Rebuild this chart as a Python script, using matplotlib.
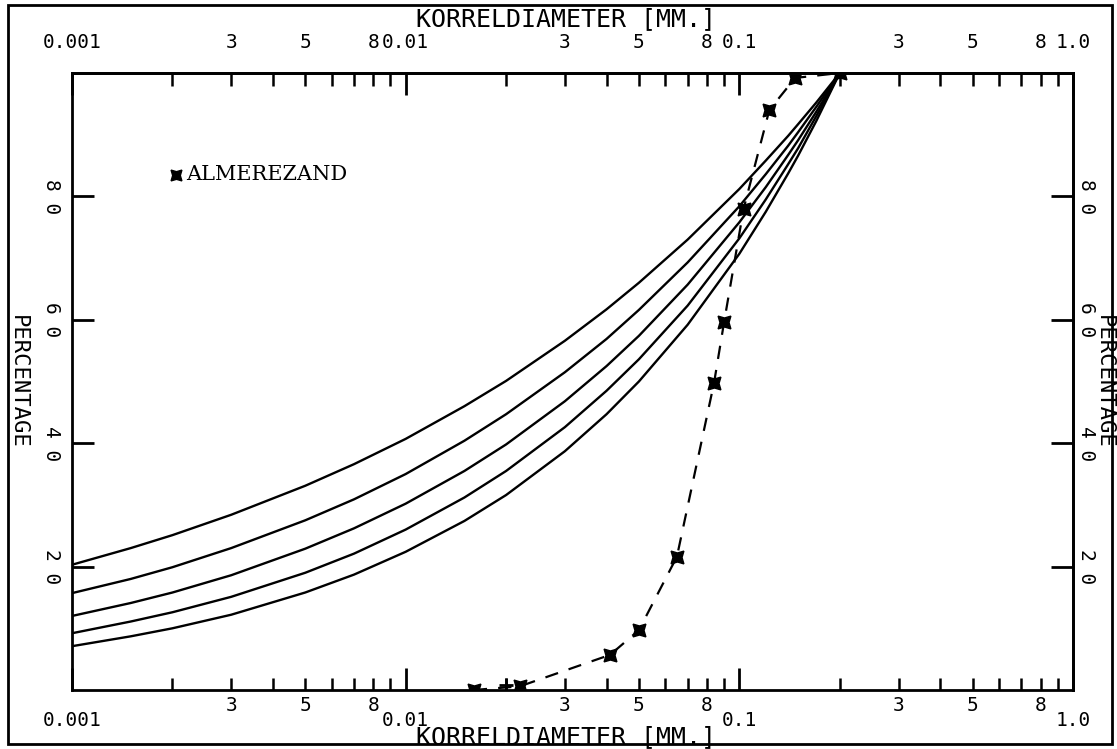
import numpy as np
import matplotlib
matplotlib.use('Agg')
import matplotlib.pyplot as plt
from matplotlib.patches import Rectangle

# grain size (mm) where the five reference curves were read
curve_d = [0.001, 0.0015, 0.002, 0.003, 0.005, 0.007, 0.01, 0.015, 0.02, 0.03,
           0.04, 0.05, 0.07, 0.1, 0.12, 0.14, 0.15, 0.17, 0.2]
curve_1 = [20.3, 23.0, 25.1, 28.4, 33.1, 36.6, 40.7, 46.0, 50.1, 56.6,
           61.7, 66.0, 73.0, 81.2, 85.8, 89.8, 91.7, 95.2, 100]
curve_2 = [15.7, 18.0, 19.9, 23.0, 27.5, 30.9, 35.0, 40.4, 44.7, 51.5,
           56.9, 61.6, 69.3, 78.4, 83.6, 88.2, 90.4, 94.5, 100]
curve_3 = [12.0, 14.1, 15.8, 18.6, 22.9, 26.2, 30.2, 35.5, 39.8, 46.8,
           52.5, 57.4, 65.7, 75.8, 81.5, 86.7, 89.1, 93.7, 100]
curve_4 = [9.2, 11.1, 12.6, 15.1, 19.0, 22.1, 26.0, 31.2, 35.5, 42.6,
           48.5, 53.6, 62.3, 73.2, 79.5, 85.2, 87.8, 93.0, 100]
curve_5 = [7.1, 8.7, 10.0, 12.2, 15.8, 18.7, 22.4, 27.4, 31.6, 38.7,
           44.7, 50.0, 59.2, 70.7, 77.5, 83.7, 86.6, 92.2, 100]

# Almerezand sieve curve
sand_d = [0.016, 0.022, 0.041, 0.050, 0.065, 0.084, 0.090, 0.103, 0.123, 0.147, 0.2]
sand_p = [0.0, 0.6, 5.7, 9.7, 21.6, 49.8, 59.6, 78.0, 94.0, 99.2, 100.0]
extra_d = [0.020]
extra_p = [0.8]

decades = [0.001, 0.01, 0.1, 1.0]
decade_labels = ['0.001', '0.01', '0.1', '1.0']
minor_pos = [m * d for d in [0.001, 0.01, 0.1] for m in range(2, 10)]
minor_labels = [str(m) if m in (3, 5, 8) else '' for d in range(3) for m in range(2, 10)]
y_ticks = [20, 40, 60, 80]
y_labels = ['2 0', '4 0', '6 0', '8 0']

mono = 'DejaVu Sans Mono'
W, H = 1117, 749

fig = plt.figure(figsize=(11.17, 7.49), dpi=100)
ax = fig.add_axes([72 / W, 1 - 690 / H, (1073 - 72) / W, (690 - 73) / H])

for c in [curve_1, curve_2, curve_3, curve_4, curve_5]:
    ax.plot(curve_d, c, color='black', lw=1.7, solid_capstyle='round')

ax.plot(sand_d, sand_p, color='black', lw=1.6, dashes=(6, 5))
ax.plot(sand_d, sand_p, ls='none', marker=(4, 1, 45), ms=13, color='black')
ax.plot(extra_d, extra_p, ls='none', marker='+', ms=10, mew=2, color='black')

# legend
ax.plot([0.00205], [83.5], ls='none', marker=(4, 1, 45), ms=11, color='black')
ax.text(0.0022, 83.5, 'ALMEREZAND', family='DejaVu Serif', fontsize=15,
        va='center', ha='left')

ax.set_xscale('log')
ax.set_xlim(0.001, 1.0)
ax.set_ylim(0, 100)

for s in ax.spines.values():
    s.set_linewidth(2)

ax.set_xticks(decades, labels=decade_labels)
ax.set_xticks(minor_pos, labels=minor_labels, minor=True)
ax.set_yticks(y_ticks, labels=y_labels)
ax.tick_params(axis='x', which='major', direction='in', length=16, width=2, pad=15,
               labelsize=14)
ax.tick_params(axis='x', which='minor', direction='in', length=9, width=1.8, pad=4,
               labelsize=14)
ax.tick_params(axis='y', direction='in', length=16, width=2, pad=8, labelsize=14,
               labelrotation=-90)
for lab in ax.get_xticklabels(which='both') + ax.get_yticklabels():
    lab.set_family(mono)
for lab in ax.get_yticklabels():
    lab.set_va('center')

mid_y = 1 - (73 + 690) / 2 / H
ax.set_xlabel('KORRELDIAMETER [MM.]', family=mono, fontsize=18, va='center')
ax.xaxis.set_label_coords(566 / W, 1 - 737 / H, transform=fig.transFigure)
ax.set_ylabel('PERCENTAGE', family=mono, fontsize=16, rotation=-90, va='center')
ax.yaxis.set_label_coords(18 / W, mid_y, transform=fig.transFigure)

top = ax.secondary_xaxis('top')
top.set_xticks(decades, labels=decade_labels)
top.set_xticks(minor_pos, labels=minor_labels, minor=True)
top.tick_params(which='major', direction='in', length=16, width=2, pad=15, labelsize=14)
top.tick_params(which='minor', direction='in', length=9, width=1.8, pad=15, labelsize=14)
top.spines['top'].set_linewidth(2)
for lab in top.get_xticklabels(which='both'):
    lab.set_family(mono)
top.set_xlabel('KORRELDIAMETER [MM.]', family=mono, fontsize=18, va='center')
top.xaxis.set_label_coords(566 / W, 1 - 19 / H, transform=fig.transFigure)

right = ax.secondary_yaxis('right')
right.set_yticks(y_ticks, labels=y_labels)
right.tick_params(direction='in', length=16, width=2, pad=3, labelsize=14,
                  labelrotation=-90)
right.spines['right'].set_linewidth(2)
for lab in right.get_yticklabels():
    lab.set_family(mono)
    lab.set_va('center')
right.set_ylabel('PERCENTAGE', family=mono, fontsize=16, rotation=-90, va='center')
right.yaxis.set_label_coords(1104 / W, mid_y, transform=fig.transFigure)

# outer frame
fig.patches.append(Rectangle((8 / W, 5 / H), 1104 / W, 739 / H,
                             transform=fig.transFigure, fill=False,
                             edgecolor='black', lw=2))

fig.savefig('out.png', dpi=100)
